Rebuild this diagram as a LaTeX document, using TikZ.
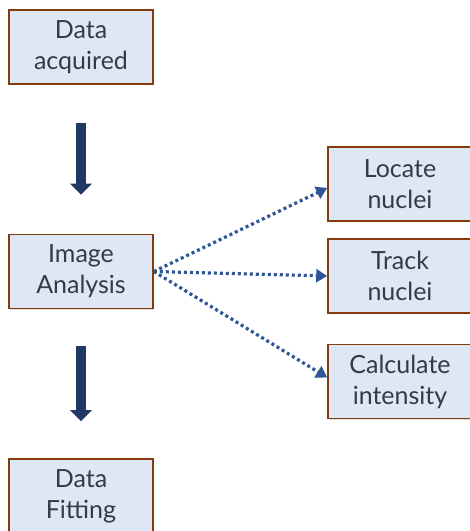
\documentclass[tikz,border=0pt]{standalone}
\usepackage{fontspec}
\setmainfont{Lato}
\usetikzlibrary{arrows.meta,shadows}
\definecolor{boxfill}{HTML}{DEE8F4}
\definecolor{boxline}{HTML}{843C0C}
\definecolor{boxtext}{HTML}{353A44}
\definecolor{navy}{HTML}{1F3864}
\definecolor{dotblue}{HTML}{2F5597}
\tikzset{
  stagebox/.style={draw=boxline, line width=1.6pt, fill=boxfill, text=boxtext,
    minimum width=144pt, minimum height=74pt, align=center, inner sep=0pt,
    font=\fontsize{25}{31}\selectfont,
    drop shadow={opacity=0.25, shadow xshift=1.2pt, shadow yshift=-1.2pt}},
  bigarrow/.style={draw=navy, line width=10pt, -{Triangle[width=21pt,length=11pt]}},
  dotarrow/.style={draw=dotblue, line width=3.2pt, dash pattern=on 3pt off 3pt,
    -{Triangle[width=13pt,length=11pt]}}
}
\begin{document}
\begin{tikzpicture}[x=1pt,y=-1pt]
\useasboundingbox (0,0) rectangle (470,531);
\clip (0,0) rectangle (470,531);

\node[stagebox] (acq) at (81,47) {Data\\acquired};
\node[stagebox] (ana) at (81,271.5) {Image\\Analysis};
\node[stagebox] (fit) at (81,496) {Data\\Fitting};

\node[stagebox] (loc) at (400,184) {Locate\\nuclei};
\node[stagebox] (trk) at (400,276) {Track\\nuclei};
\node[stagebox] (calc) at (400,381.5) {Calculate\\intensity};

\draw[bigarrow, shorten <=38pt, shorten >=39pt] (acq) -- (ana);
\draw[bigarrow, shorten <=37pt, shorten >=37pt] (ana) -- (fit);

\draw[dotarrow] (ana.east) -- ([yshift=-4pt]loc.west);
\draw[dotarrow] (ana.east) -- (trk.west);
\draw[dotarrow] (ana.east) -- ([yshift=4pt]calc.west);
\end{tikzpicture}
\end{document}
